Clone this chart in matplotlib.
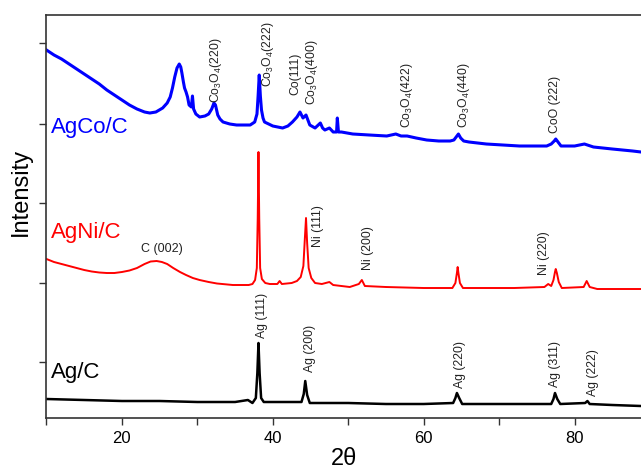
import matplotlib
matplotlib.use("Agg")
import matplotlib.pyplot as plt

plt.rcParams['font.family'] = ['Liberation Sans', 'DejaVu Sans']
plt.rcParams['mathtext.fontset'] = 'custom'
plt.rcParams['mathtext.rm'] = 'Liberation Sans'
plt.rcParams['mathtext.it'] = 'Liberation Sans:italic'

# ---- data (2theta in degrees, intensity in arbitrary units) ----
agco_x = [10.0, 11.0, 12.0, 13.0, 14.0, 15.0, 16.0, 17.0, 18.0, 19.0, 20.0, 21.0, 22.0,
          23.0, 23.7, 24.5, 25.4, 26.0, 26.4, 26.7, 27.0, 27.3, 27.6, 27.8, 27.95, 28.15,
          28.3, 28.5, 28.7, 28.9, 29.2, 29.35, 29.5, 29.8, 30.3, 31.0, 31.5, 31.9, 32.2,
          32.4, 32.7, 33.0, 33.4, 34.3, 35.2, 37.0, 37.6, 37.9, 38.05, 38.2, 38.35, 38.5,
          38.7, 38.9, 40.0, 41.3, 42.0, 42.6, 43.2, 43.6, 44.0, 44.4, 44.7, 44.9, 45.6,
          46.3, 46.6, 46.9, 47.5, 48.0, 48.45, 48.55, 48.7, 49.1, 50.6, 52.8, 55.1, 56.3,
          57.0, 57.8, 59.0, 60.4, 62.0, 63.5, 64.0, 64.3, 64.6, 64.9, 65.3, 66.0, 68.3,
          72.7, 76.3, 76.9, 77.3, 77.5, 77.8, 78.2, 80.0, 81.3, 82.5, 85.0, 87.7, 88.8]
agco_y = [368, 363, 359, 354, 349, 344, 339, 334, 328, 323, 318, 313, 309,
          306, 305, 306, 310, 315, 321, 330, 341, 350, 354, 351, 345, 336,
          330, 326, 321, 313, 311, 322, 309, 304, 301, 302, 304, 309, 315,
          313, 303, 299, 296, 294, 293, 293, 296, 304, 322, 343, 322, 308,
          300, 296, 292, 290, 292, 296, 301, 306, 300, 303, 297, 293, 290,
          295, 290, 288, 290, 286, 286, 300, 286, 286, 284, 283, 282, 284,
          282, 282, 280, 278, 277, 277, 278, 281, 284, 280, 277, 276, 274,
          272, 272, 274, 277, 279, 276, 272, 272, 274, 271, 269, 267, 266]

agni_x = [10.0, 11.0, 12.0, 13.0, 14.0, 15.0, 16.0, 17.0, 18.0, 19.0, 20.0, 21.0, 22.0,
          23.0, 23.8, 24.6, 25.3, 26.0, 26.8, 27.7, 28.5, 29.4, 30.3, 31.5, 32.6, 34.7,
          36.8, 37.3, 37.65, 37.88, 38.0, 38.1, 38.2, 38.32, 38.55, 39.0, 39.6, 40.6,
          40.9, 41.2, 42.5, 43.2, 43.7, 44.05, 44.25, 44.4, 44.55, 44.75, 45.1, 45.6,
          46.5, 47.5, 48.0, 50.2, 51.4, 51.8, 52.2, 55.0, 60.0, 63.8, 64.2, 64.4, 64.5,
          64.6, 64.8, 65.2, 72.0, 76.0, 76.5, 76.9, 77.2, 77.4, 77.5, 77.65, 77.9, 78.3,
          81.2, 81.6, 82.0, 83.0, 88.8]
agni_y = [159, 156, 154, 152, 150, 148, 146.5, 145.5, 145, 145, 146, 147.5, 150,
          154, 156.5, 157, 156, 154, 150, 146, 143, 140, 138, 136, 134.5, 133,
          133, 134, 138, 150, 200, 266, 200, 150, 139, 135, 134, 134,
          137, 134, 135, 137, 141, 152, 180, 200, 175, 150, 140, 135,
          134, 136, 133, 131, 134, 138, 132, 131, 130, 130, 135, 145, 151,
          145, 135, 130, 130, 131, 134, 132, 138, 146, 149, 145, 136, 130,
          131, 137, 131, 129, 129]

agc_x = [10.0, 15.0, 20.0, 25.0, 30.0, 35.0, 36.7, 37.3, 37.75, 37.95, 38.1, 38.25, 38.45,
         38.8, 40.0, 43.8, 44.1, 44.3, 44.55, 44.9, 50.0, 55.0, 60.0, 63.9, 64.2, 64.4,
         64.7, 65.1, 70.0, 76.9, 77.2, 77.4, 77.7, 78.1, 81.4, 81.7, 82.0, 85.0, 88.8]
agc_y = [19, 18, 17, 17, 16, 16, 18, 15, 20, 45, 75, 45, 20,
         16, 16, 16, 24, 37, 23, 15, 15, 14, 14, 15, 20, 25,
         20, 14, 14, 14, 19, 25, 19, 14, 15, 17, 14, 13, 12]

sample_names = ["AgCo/C", "AgNi/C", "Ag/C"]
x_ticks = [20, 40, 60, 80]

# ---- figure ----
fig = plt.figure(figsize=(6.41, 4.72), dpi=100)
ax = fig.add_axes([0.0725, 0.1144, 0.9275, 0.8538])

ax.plot(agco_x, agco_y, color='#0000ff', lw=2.2, solid_joinstyle='round')
ax.plot(agni_x, agni_y, color='#ff0000', lw=1.4, solid_joinstyle='round')
ax.plot(agc_x, agc_y, color='black', lw=1.8, solid_joinstyle='round')

ax.set_xlim(10, 88.8)
ax.set_ylim(0, 403)
ax.set_xticks(x_ticks)
ax.set_xticks([10, 30, 50, 70], minor=True)
ax.set_yticks([56, 135, 215, 294, 375])
ax.set_yticklabels([])
ax.tick_params(axis='both', which='both', direction='out', length=5, width=1, color='#333333')
ax.tick_params(axis='x', labelsize=12, pad=4)
for s in ['left', 'bottom', 'top']:
    ax.spines[s].set_color('#333333')
    ax.spines[s].set_linewidth(1.2)
ax.spines['right'].set_visible(False)

ax.set_ylabel("Intensity", fontsize=17)
ax.yaxis.set_label_coords(-0.024, 0.56)
ax.set_xlabel("2θ", fontsize=17, labelpad=2)

# sample names
name_colors = ['#0000ff', '#ff0000', 'black']
name_y = [291, 186, 46]
for n, c, yy in zip(sample_names, name_colors, name_y):
    ax.text(10.6, yy, n, color=c, fontsize=16, ha='left', va='center')

# peak annotations
peak_labels = [
    (r"Co$_3$O$_4$(220)", 32.45, 315),
    (r"Co$_3$O$_4$(222)", 39.3, 331),
    ("Co(111)", 42.95, 323),
    (r"Co$_3$O$_4$(400)", 45.15, 313),
    (r"Co$_3$O$_4$(422)", 57.75, 290),
    (r"Co$_3$O$_4$(440)", 65.3, 290),
    ("CoO (222)", 77.35, 285),
    ("Ni (111)", 45.96, 171),
    ("Ni (200)", 52.6, 148),
    ("Ni (220)", 76.0, 143),
    ("Ag (111)", 38.54, 80),
    ("Ag (200)", 44.9, 46),
    ("Ag (220)", 64.77, 30),
    ("Ag (311)", 77.35, 31),
    ("Ag (222)", 82.5, 22),
]
for t, xx, yy in peak_labels:
    ax.text(xx, yy, t, rotation=90, ha='center', va='bottom', fontsize=8.8, color='#222222')

ax.text(25.3, 169, "C (002)", ha='center', va='center', fontsize=9, color='#222222')

fig.savefig("out.png", dpi=100)
